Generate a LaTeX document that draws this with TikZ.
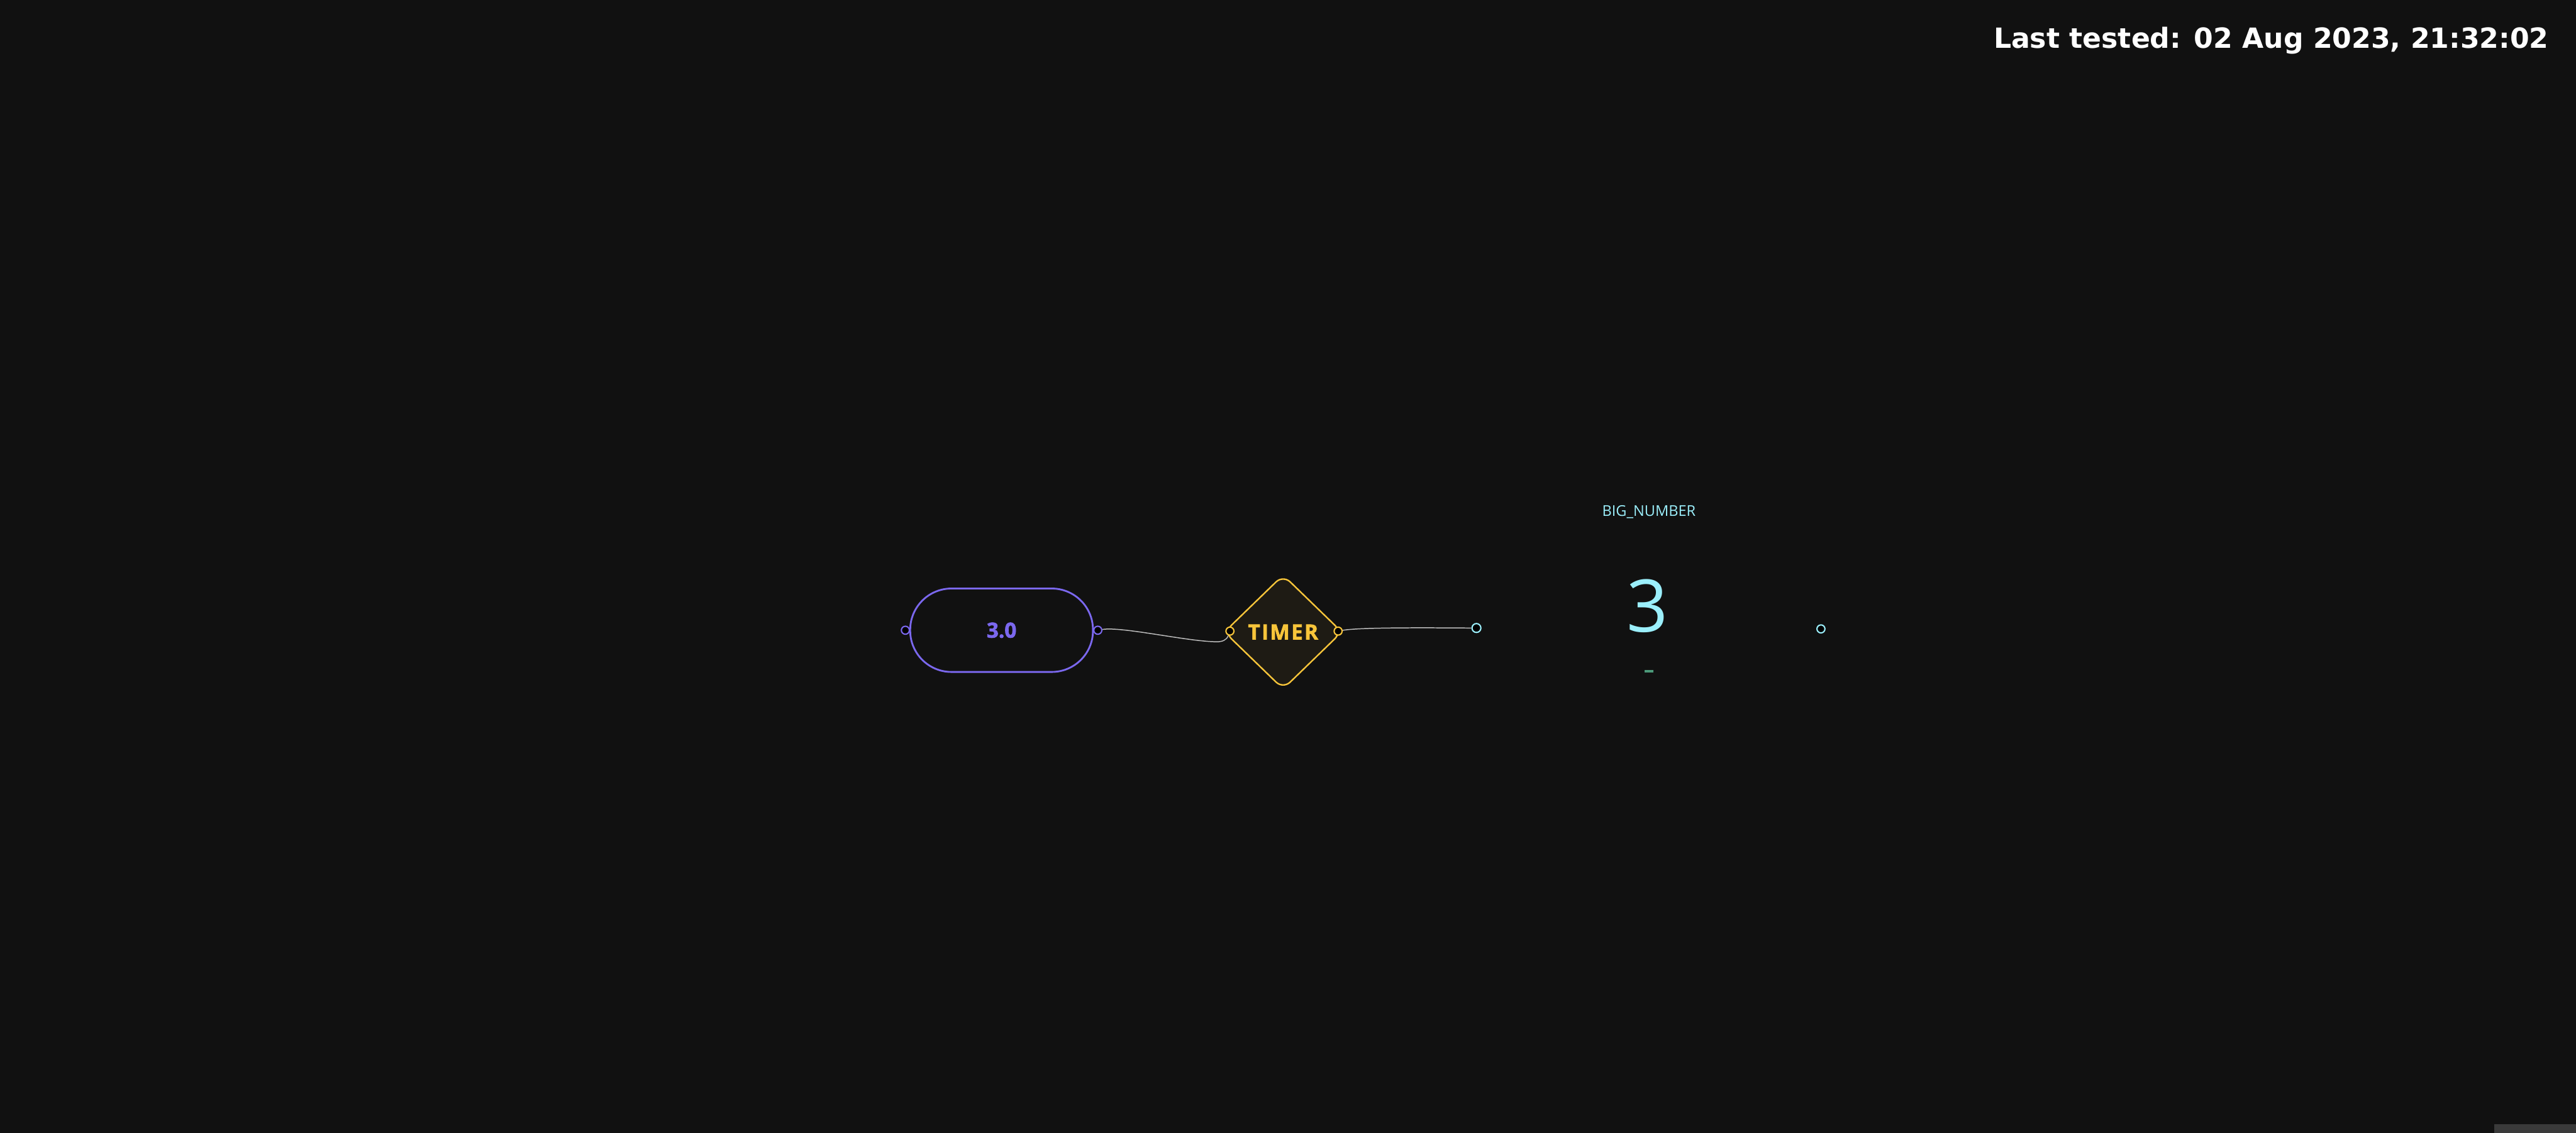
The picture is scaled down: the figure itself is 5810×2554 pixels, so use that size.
\documentclass[tikz,border=0pt]{standalone}
\usepackage{fontspec}
\setmainfont{Open Sans}
\newfontfamily\stampfont{DejaVu Sans}
\usetikzlibrary{shapes.geometric}

\definecolor{bgdark}{HTML}{111111}
\definecolor{cornergray}{HTML}{3A3A3A}
\definecolor{pillblue}{HTML}{7B68EE}
\definecolor{timeryellow}{HTML}{F8C53A}
\definecolor{timerfill}{HTML}{1E1B14}
\definecolor{wiregray}{HTML}{BDBDBD}
\definecolor{bigcyan}{HTML}{9BEFFB}
\definecolor{dashgreen}{HTML}{4C9A7A}

\tikzset{
   port/.style={circle,draw,line width=0.85pt,fill=black,inner sep=0pt,minimum size=0.18cm},
   wire/.style={draw=wiregray,line width=0.6pt}
}

\begin{document}
\begin{tikzpicture}[x=0.01cm,y=-0.01cm]

   \fill [bgdark] (0,0) rectangle (5810,2554);
   \useasboundingbox (0,0) rectangle (5810,2554);
   \fill [cornergray] (5625,2535) rectangle (5810,2554);

   \node [anchor=base east,text=white,inner sep=0pt] (stamp) at (5749,109)
      {\stampfont\bfseries\fontsize{17.8}{20}\selectfont Last tested: 02 Aug 2023, 21:32:02};

   % number node
   \node [draw=pillblue,line width=1.15pt,rounded corners=0.93cm,minimum width=4.12cm,
      minimum height=1.88cm,text=pillblue,
      font=\bfseries\fontsize{13.4}{15}\selectfont\addfontfeature{FakeBold=2}] (num) at (2259,1421) {3.0};
   \node [port,draw=pillblue] (numin) at (2042,1421) {};
   \node [port,draw=pillblue] (numout) at (2476,1421) {};

   % timer node
   \node [diamond,draw=timeryellow,fill=timerfill,line width=0.95pt,rounded corners=0.22cm,
      minimum width=2.66cm,minimum height=2.58cm,inner sep=0pt,text=timeryellow,
      font=\bfseries\fontsize{13.4}{15}\selectfont\addfontfeature{LetterSpace=7,FakeBold=2}] (timer) at (2894,1425) {TIMER};
   \node [port,draw=timeryellow] (timerin) at (2774,1423) {};
   \node [port,draw=timeryellow] (timerout) at (3018,1423) {};

   % big number panel
   \node [anchor=base,text=bigcyan,inner sep=0pt,font=\fontsize{9.5}{11}\selectfont] (bigtitle) at (3719,1164) {BIG\_NUMBER};
   \node [anchor=base,text=bigcyan,inner sep=0pt,font=\fontsize{46.6}{50}\selectfont] (bigvalue) at (3716,1425) {3};
   \node [fill=dashgreen,minimum width=0.19cm,minimum height=0.06cm,inner sep=0pt] (bigunit) at (3719,1513) {};
   \node [port,draw=bigcyan,minimum size=0.2cm] (bigin) at (3330,1416) {};
   \node [port,draw=bigcyan] (bigout) at (4107,1418) {};

   \coordinate (sag) at (2745,1447);
   \draw [wire] (numout) .. controls (2530,1412) and (2680,1447) .. (sag) to[out=0,in=-110] (timerin);
   \draw [wire] (timerout) to[out=10,in=180,looseness=0.4] (bigin);

\end{tikzpicture}
\end{document}
